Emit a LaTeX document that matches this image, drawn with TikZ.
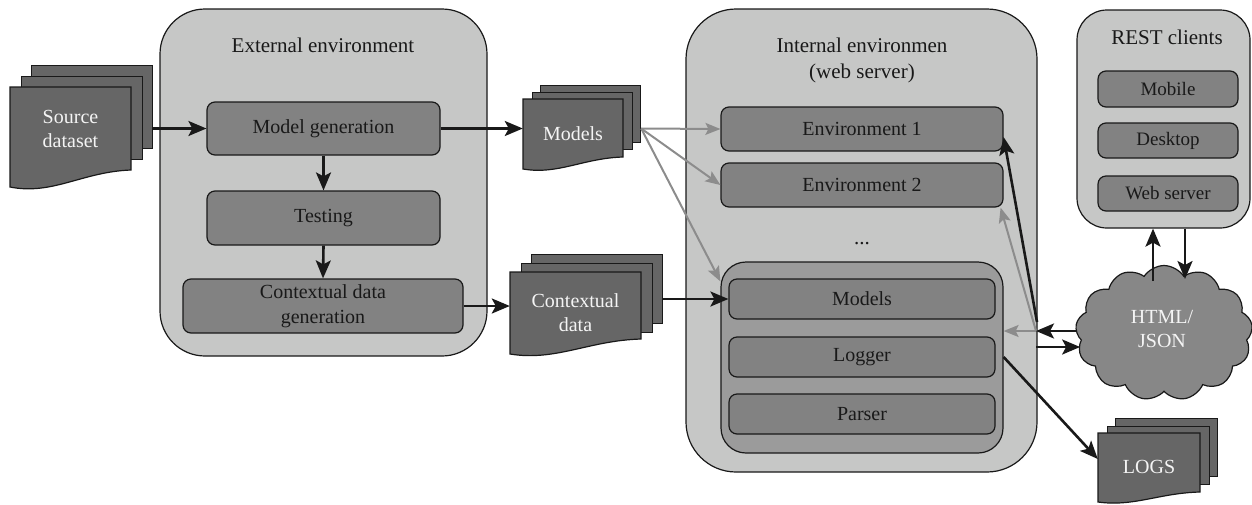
\documentclass[tikz,border=0pt]{standalone}
\usepackage{fontspec}
\setmainfont{Liberation Serif}
\usetikzlibrary{arrows.meta,shapes.symbols,calc}
\definecolor{envbg}{RGB}{198,199,198}
\definecolor{boxfill}{RGB}{130,130,130}
\definecolor{grpfill}{RGB}{155,155,155}
\definecolor{sheetfill}{RGB}{102,102,102}
\definecolor{cloudfill}{RGB}{135,135,135}
\definecolor{grayarrow}{RGB}{140,140,140}
\definecolor{ink}{RGB}{25,25,25}
\definecolor{paper}{RGB}{244,244,244}
\tikzset{
  container/.style={draw=ink, fill=envbg, line width=1.2pt, rounded corners=#1},
  container/.default=45pt,
  boxnode/.style={draw=ink, fill=boxfill, line width=1.2pt, rounded corners=8pt, inner sep=0pt,
    font=\fontsize{20}{25}\selectfont, text=ink, align=center},
  titletext/.style={font=\fontsize{21}{26}\selectfont, text=ink, align=center, inner sep=0pt},
  sheet/.style={draw=ink, fill=sheetfill, line width=1.2pt, inner sep=0pt},
  stacktext/.style={font=\fontsize{20}{24}\selectfont, text=paper, align=center, inner sep=0pt},
  arr/.style={draw=ink, line width=2.6pt, -{Stealth[length=18pt,width=15pt,inset=4pt]}},
  garr/.style={draw=grayarrow, line width=2pt, -{Stealth[length=15pt,width=12pt,inset=3pt]}},
}
% #1 name, #2 x1, #3 ytop, #4 w, #5 yLbot, #6 wave rise, #7 dx, #8 dy, #9 back height
\newcommand\sheetstack[9]{%
  \node[sheet, minimum width=#4pt, minimum height=#9pt, anchor=north west] (#1-3) at ({#2+2*#7},{#3-2*#8}) {};
  \node[sheet, minimum width=#4pt, minimum height=#9pt, anchor=north west] (#1-2) at ({#2+#7},{#3-#8}) {};
  \draw[sheet] (#2,#3) -- ({#2+#4},#3) -- ({#2+#4},{#5-#6})
     .. controls ({#2+0.6*#4},{#5-0.9*#6}) and ({#2+0.35*#4},{#5+0.5*#6}) .. (#2,#5) -- cycle;
}
\begin{document}
\begin{tikzpicture}[x=1pt,y=-1pt]
\useasboundingbox (0,0) rectangle (1252,504);

% ---- containers
\node[container, minimum width=327pt, minimum height=347pt] (ext) at (323.5,182.5) {};
\node[titletext] (exttitle) at (323,45) {External environment};
\node[container=50pt, minimum width=351pt, minimum height=463pt] (int) at (861.5,240.5) {};
\node[titletext] (inttitle) at (862,60) {Internal environmen\\(web server)};
\node[container=30pt, minimum width=173pt, minimum height=218pt] (rest) at (1163.5,119) {};
\node[titletext] (resttitle) at (1167,37) {REST clients};

% ---- external boxes
\node[boxnode, minimum width=233pt, minimum height=53pt] (mg) at (323.5,128.5) {Model generation};
\node[boxnode, minimum width=233pt, minimum height=54pt] (test) at (323.5,218) {Testing};
\node[boxnode, minimum width=280pt, minimum height=54pt] (cdg) at (323,306) {Contextual data\\generation};

% ---- internal boxes
\node[boxnode, minimum width=282pt, minimum height=44pt] (env1) at (862,129) {Environment 1};
\node[boxnode, minimum width=282pt, minimum height=44pt] (env2) at (862,185) {Environment 2};
\node[titletext, anchor=base] (dots) at (862,244) {...};
\node[boxnode, fill=grpfill, rounded corners=25pt, minimum width=282pt, minimum height=191pt] (grp) at (862,357.5) {};
\node[boxnode, minimum width=266pt, minimum height=40pt] (imodels) at (862,299) {Models};
\node[boxnode, minimum width=266pt, minimum height=40pt] (logger) at (862,357) {Logger};
\node[boxnode, minimum width=266pt, minimum height=40pt] (parser) at (862,414) {Parser};

% ---- REST clients
\node[boxnode, font=\fontsize{19}{23}\selectfont, minimum width=140pt, minimum height=36pt] (mobile) at (1168,89) {Mobile};
\node[boxnode, font=\fontsize{19}{23}\selectfont, minimum width=140pt, minimum height=35pt] (desktop) at (1168,140.5) {Desktop};
\node[boxnode, font=\fontsize{19}{23}\selectfont, minimum width=140pt, minimum height=35pt] (websrv) at (1168,193.5) {Web server};

% ---- cloud
\node[cloud, draw=ink, fill=cloudfill, line width=1.2pt, cloud puffs=13, cloud puff arc=115,
      cloud ignores aspect, minimum width=177pt, minimum height=135pt, inner sep=0pt] (cloud) at (1164,333) {};
\node[stacktext] (cloudtext) at (1162,329) {HTML/\\JSON};

% ---- document stacks
\sheetstack{src}{10}{87}{121}{187}{17}{10.5}{11}{83}
\node[stacktext, minimum width=121pt] (src) at (70.5,129) {Source\\dataset};
\sheetstack{mdl}{523}{99}{100}{169}{12}{8.5}{7}{57}
\node[stacktext, minimum width=100pt] (mdl) at (573,134) {Models};
\sheetstack{ctx}{510}{272}{131}{354}{15}{10.5}{9}{69}
\node[stacktext, minimum width=131pt] (ctx) at (575.5,313) {Contextual\\data};
\sheetstack{logs}{1098}{433}{102}{502}{10}{8.5}{7.5}{58}
\node[stacktext, minimum width=102pt] (logs) at (1149,467) {LOGS};

% ---- named free ends
\coordinate (hub) at (1036,331);
\coordinate (hubup) at (1037,322);
\coordinate (hubout) at (1036,347);
\coordinate (cu) at (1153,281);
\coordinate (cd) at (1185,279);

% ---- black connectors
\draw[arr] (src-3.east |- mg.west) -- (mg.west);
\draw[arr] (mg.east) -- (mg.east -| mdl.west);
\draw[arr] (mg.south) -- (test.north);
\draw[arr] (test.south) -- (cdg.north);
\draw[arr] (cdg.east) -- (cdg.east -| ctx.west);
\draw[arr] (ctx-3.east |- imodels.west) -- (imodels.west);

% ---- gray connectors
\coordinate (mfan) at (mdl-3.east |- mg.east);
\draw[garr] (mfan) -- (env1.west);
\draw[garr] (mfan) -- (env2.west);
\draw[garr] (mfan) -- ([yshift=-20pt]grp.north west);
\draw[garr] (hub) -- (hub -| grp.east);
\draw[garr] (hub) -- ([xshift=-3pt]env2.south east);

% ---- right side
\draw[arr] (hubup) -- ([yshift=-8pt]env1.east);
\draw[arr] (hub -| cloud.west) -- (hub);
\draw[arr] (hubout) -- ([xshift=4pt]hubout -| cloud.west);
\draw[arr] (cu) -- (cu |- rest.south);
\draw[arr] (cd |- rest.south) -- (cd);
\draw[arr] (logger.east -| grp.east) -- ([yshift=8pt]logs.west);
\end{tikzpicture}
\end{document}
